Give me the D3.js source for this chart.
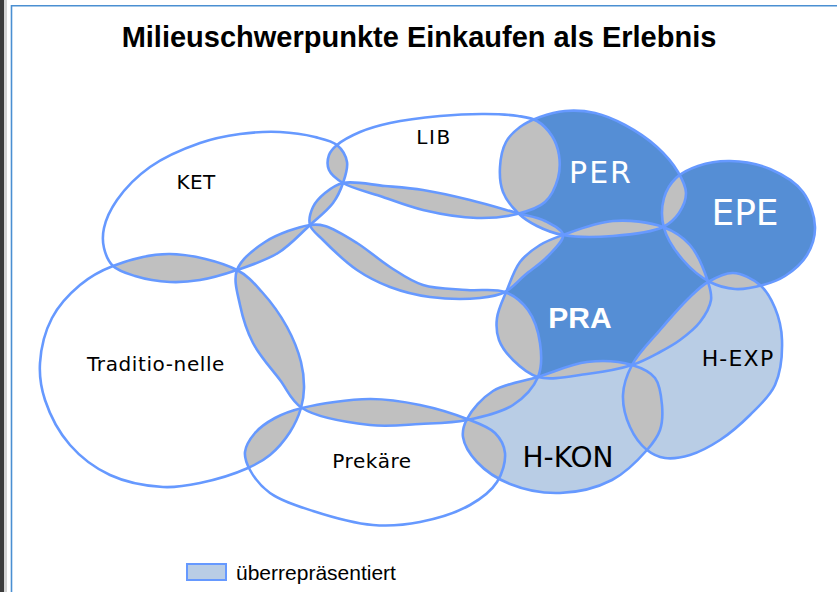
<!DOCTYPE html>
<html><head><meta charset="utf-8">
<script src="https://cdn.jsdelivr.net/npm/d3@7"></script>
<style>html,body{margin:0;padding:0;background:#fff;overflow:hidden}</style>
</head><body>
<svg id="c" width="837" height="592"></svg>
<script>
// ---------- data ----------
const chartTitle = "Milieuschwerpunkte Einkaufen als Erlebnis";
const legendLabel = "überrepräsentiert";
const milieuKeys   = ["KET","LIB","PER","EPE","PRA","MID","BAND","TRA","PRE","HKON","HEXP"];
const milieuLabels = ["KET","LIB","PER","EPE","PRA","","","Traditio-nelle","Prekäre","H-KON","H-EXP"];
const milieuLevel  = ["none","none","strong","strong","strong","none","none","none","none","medium","medium"];
// outlines in diagram units
const ketOutline  = [[280,132],[315,137],[337,145],[347,162],[343,183],[333,203],[310,225],[278,253],[237,270],[200,280],[170,282],[135,276],[113,266],[104,248],[104,228],[117,200],[150,167],[200,143],[240,134]];
const libOutline  = [[337,145],[360,132],[390,123],[440,116],[485,114],[518,116],[537,121],[552,136],[559,155],[558,178],[545,202],[517,214],[477,218],[423,210],[380,196],[343,183],[329,170],[329,155]];
const perOutline  = [[500,167],[506,142],[520,127],[540,117],[565,111],[595,113],[625,125],[657,147],[678,172],[686,193],[679,213],[663,227],[613,236],[563,235],[537,226],[518,213],[503,192]];
const epeOutline  = [[664,198],[676,178],[698,166],[730,161],[770,169],[803,192],[815,227],[807,255],[785,276],[763,285],[735,289],[710,282],[683,260],[664,228]];
const praOutline  = [[563,235],[613,221],[663,227],[690,245],[708,282],[711,300],[700,322],[680,340],[660,352],[632,365],[587,374],[538,377],[513,360],[499,340],[497,318],[507,290],[520,262],[540,245]];
const midOutline  = [[237,270],[265,242],[310,225],[325,226],[357,243],[390,267],[423,285],[467,290],[505,292],[528,310],[540,343],[538,377],[513,405],[467,420],[420,424],[370,425],[302,408],[280,380],[253,343],[240,305]];
const bandOutline = [[343,183],[385,186],[423,190],[470,200],[517,213],[545,221],[563,235],[547,257],[525,275],[505,292],[480,298],[430,297],[390,287],[357,270],[323,240],[310,225],[313,207],[325,193]];
const traOutline  = [[170,254],[237,270],[262,292],[287,327],[301,362],[304,388],[301,408],[290,432],[270,455],[248,468],[200,483],[163,487],[110,475],[70,445],[45,400],[40,363],[52,318],[80,285],[113,266]];
const preOutline  = [[302,408],[370,399],[420,405],[467,419],[495,433],[505,453],[497,482],[470,505],[420,522],[373,525],[313,511],[270,493],[250,470],[245,452],[255,433],[275,418]];
const hkonOutline = [[467,419],[493,391],[538,377],[587,362],[632,365],[655,378],[662,405],[660,430],[647,450],[612,480],[560,493],[510,484],[477,462],[463,437]];
const hexpOutline = [[708,282],[733,273],[760,285],[775,308],[782,340],[775,385],[750,415],[720,440],[690,455],[665,458],[647,450],[630,427],[623,395],[632,365],[660,330],[690,297]];
const outlines = [ketOutline,libOutline,perOutline,epeOutline,praOutline,midOutline,bandOutline,traOutline,preOutline,hkonOutline,hexpOutline];
// label anchor points (diagram units)
const labelAt = [[196,189],[434,144],[601,183],[745,225],[580,328],[0,0],[0,0],[156,371],[372,468],[568,467],[738,366]];

// ---------- styles ----------
const fillFor = {none:"#ffffff", medium:"#B9CDE5", strong:"#558ED5"};
const textFill = {none:"#000000", medium:"#000000", strong:"#ffffff"};
const labelStyle = {
  KET:{size:20, ls:0.3}, LIB:{size:20, ls:1.5}, PER:{size:30, ls:2}, EPE:{size:36, ls:0},
  PRA:{size:30, ls:0, bold:true, family:"'Liberation Sans', Arial, sans-serif"},
  TRA:{size:20, ls:0.6}, PRE:{size:20, ls:0.6}, HKON:{size:28, ls:0}, HEXP:{size:22, ls:1.2}
};
const strokeCol = "#6699FF", overlapCol = "#C0C0C0";

// ---------- scales ----------
const W = 837, H = 592;
const x = d3.scaleLinear().domain([0, 837]).range([0, W]);
const y = d3.scaleLinear().domain([0, 592]).range([0, H]);
const line = d3.line().x(d => x(d[0])).y(d => y(d[1])).curve(d3.curveCatmullRomClosed.alpha(0.5));

const svg = d3.select("#c");
// frame
svg.append("rect").attr("x",0).attr("y",0).attr("width",4).attr("height",H).attr("fill","#3c3c3c");
svg.append("rect").attr("x",4).attr("y",0).attr("width",3).attr("height",H).attr("fill","#d4d4d4");
svg.append("line").attr("x1",11.5).attr("x2",11.5).attr("y1",5).attr("y2",H).attr("stroke","#4a8fd2").attr("stroke-width",1.6);
svg.append("line").attr("x1",11).attr("x2",W).attr("y1",5.7).attr("y2",5.7).attr("stroke","#4a8fd2").attr("stroke-width",1.6);

// title
svg.append("text").attr("x", 419).attr("y", 47).attr("text-anchor","middle")
  .attr("font-family","'Liberation Sans', Arial, sans-serif").attr("font-weight","bold")
  .attr("font-size",29).attr("fill","#000").text(chartTitle);

const defs = svg.append("defs");
outlines.forEach((o,i) => {
  defs.append("clipPath").attr("id","clip-"+i).append("path").attr("d", line(o));
});

const g = svg.append("g");
// fills
outlines.forEach((o,i) => {
  g.append("path").attr("d", line(o)).attr("fill", fillFor[milieuLevel[i]]);
});
// overlaps
for (let i = 0; i < outlines.length; i++) {
  for (let j = i+1; j < outlines.length; j++) {
    g.append("path").attr("d", line(outlines[j])).attr("clip-path","url(#clip-"+i+")").attr("fill", overlapCol);
  }
}
// outlines
outlines.forEach((o,i) => {
  g.append("path").attr("d", line(o)).attr("fill","none").attr("stroke",strokeCol).attr("stroke-width",2.6).attr("stroke-linejoin","round");
});
// labels
milieuLabels.forEach((lab,i) => {
  if (!lab) return;
  const st = labelStyle[milieuKeys[i]];
  g.append("text").attr("x", x(labelAt[i][0])).attr("y", y(labelAt[i][1]))
    .attr("text-anchor","middle")
    .attr("font-family", st.family || "'DejaVu Sans', Verdana, sans-serif")
    .attr("font-weight", st.bold ? "bold" : "normal")
    .attr("font-size", st.size).attr("letter-spacing", st.ls)
    .attr("fill", textFill[milieuLevel[i]]).text(lab);
});

// legend
svg.append("rect").attr("x",187).attr("y",564).attr("width",39).attr("height",16)
  .attr("fill", fillFor.medium).attr("stroke", strokeCol).attr("stroke-width",2);
svg.append("text").attr("x",236).attr("y",580).attr("font-family","'Liberation Sans', Arial, sans-serif")
  .attr("font-size",21).attr("fill","#000").text(legendLabel);
</script>
</body></html>
